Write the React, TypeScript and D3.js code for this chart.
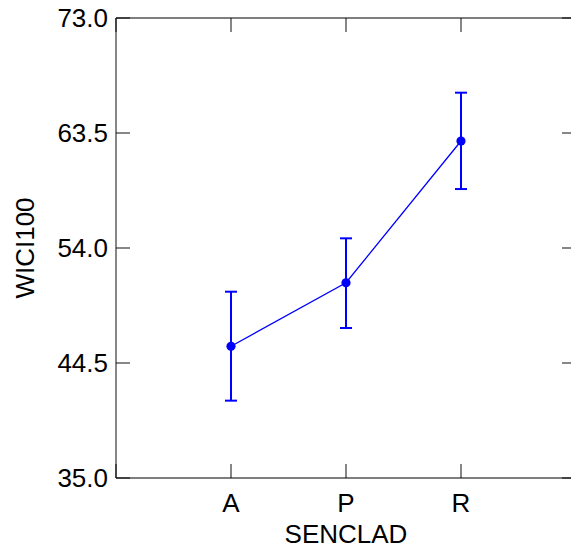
import React from "react";
import * as d3 from "d3";

const categories = ["A", "P", "R"];
const means = [45.88, 51.13, 62.84];
const lowers = [41.39, 47.39, 58.87];
const uppers = [50.39, 54.8, 66.83];
const yTicks = [35.0, 44.5, 54.0, 63.5, 73.0];
const xTickPositions = [0, 1, 2, 3, 4];

const W = 571;
const H = 550;
const left = 116;
const right = 576;
const top = 18;
const bottom = 478;
const FONT = "'Liberation Sans', Arial, Helvetica, sans-serif";

export default function App() {
  const x = d3.scaleLinear().domain([0, 4]).range([left, right]);
  const y = d3.scaleLinear().domain([35, 73]).range([bottom, top]);
  const line = d3
    .line<number>()
    .x((_, i) => x(i + 1))
    .y((d) => y(d));
  const frameStroke = "rgba(0,0,0,0.68)";
  const sw = 1.4;
  const tl = 14;
  const capHalf = 6;

  return (
    <svg
      width={W}
      height={H}
      style={{ position: "absolute", left: 0, top: 0, background: "#fff" }}
    >
      {/* frame */}
      <line x1={left} x2={left} y1={top} y2={bottom} stroke={frameStroke} strokeWidth={sw} />
      <line x1={left} x2={right} y1={top} y2={top} stroke={frameStroke} strokeWidth={sw} />
      <line x1={left} x2={right} y1={bottom} y2={bottom} stroke={frameStroke} strokeWidth={sw} />
      <line x1={right} x2={right} y1={top} y2={bottom} stroke={frameStroke} strokeWidth={sw} />
      {/* y ticks */}
      {yTicks.map((t) => (
        <g key={"y" + t}>
          <line x1={left} x2={left + tl} y1={y(t)} y2={y(t)} stroke={frameStroke} strokeWidth={sw} />
          <line x1={right - tl} x2={right} y1={y(t)} y2={y(t)} stroke={frameStroke} strokeWidth={sw} />
          <text
            x={left - 8}
            y={y(t)}
            dy="0.36em"
            textAnchor="end"
            fontFamily={FONT}
            fontSize={26}
            fill="#000"
          >
            {t.toFixed(1)}
          </text>
        </g>
      ))}
      {/* x ticks */}
      {xTickPositions.map((p) => (
        <g key={"x" + p}>
          <line x1={x(p)} x2={x(p)} y1={bottom} y2={bottom - tl} stroke={frameStroke} strokeWidth={sw} />
          <line x1={x(p)} x2={x(p)} y1={top} y2={top + tl} stroke={frameStroke} strokeWidth={sw} />
        </g>
      ))}
      {categories.map((c, i) => (
        <text
          key={c}
          x={x(i + 1)}
          y={512}
          textAnchor="middle"
          fontFamily={FONT}
          fontSize={26}
          fill="#000"
        >
          {c}
        </text>
      ))}
      {/* axis titles */}
      <text
        x={(left + right) / 2}
        y={543}
        textAnchor="middle"
        fontFamily={FONT}
        fontSize={26}
        fill="#000"
      >
        SENCLAD
      </text>
      <text
        transform={`translate(34,${(top + bottom) / 2}) rotate(-90)`}
        textAnchor="middle"
        fontFamily={FONT}
        fontSize={26}
        fill="#000"
      >
        WICI100
      </text>
      {/* connecting line */}
      <path d={line(means) || ""} fill="none" stroke="#0000ff" strokeWidth={1.3} />
      {/* error bars */}
      {categories.map((c, i) => (
        <g key={"e" + c} stroke="#0000ff" strokeWidth={2}>
          <line x1={x(i + 1)} x2={x(i + 1)} y1={y(lowers[i])} y2={y(uppers[i])} />
          <line x1={x(i + 1) - capHalf} x2={x(i + 1) + capHalf} y1={y(uppers[i])} y2={y(uppers[i])} />
          <line x1={x(i + 1) - capHalf} x2={x(i + 1) + capHalf} y1={y(lowers[i])} y2={y(lowers[i])} />
        </g>
      ))}
      {means.map((m, i) => (
        <circle key={"m" + i} cx={x(i + 1)} cy={y(m)} r={4.6} fill="#0000ff" />
      ))}
    </svg>
  );
}
